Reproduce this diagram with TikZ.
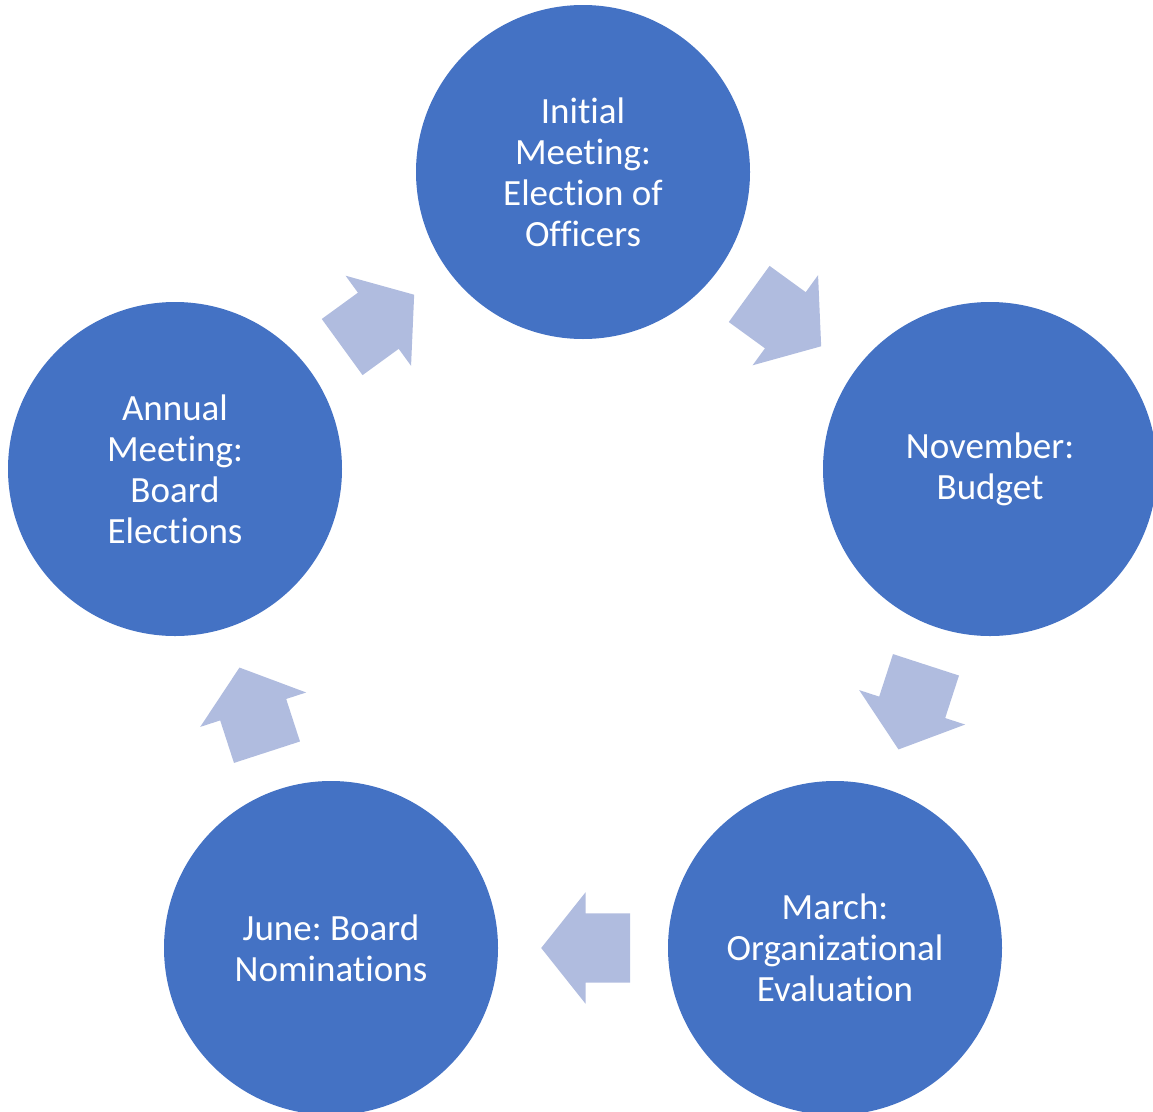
\documentclass[tikz,border=0pt]{standalone}
\usepackage{fontspec}
\setmainfont[Ligatures=NoCommon]{Carlito}
\usetikzlibrary{shapes.arrows}
\definecolor{circblue}{HTML}{4472C4}
\definecolor{arrowblue}{RGB}{176,188,223}
\tikzset{
  stage/.style={circle, fill=circblue, minimum size=334pt, inner sep=0pt,
    text=white, align=center, font=\fontsize{37}{41}\selectfont\frenchspacing},
  cyclearrow/.style={single arrow, fill=arrowblue, draw=none,
    minimum height=89pt, single arrow head extend=21pt,
    single arrow tip angle=103, inner xsep=0pt, inner ysep=34.5pt}
}
\begin{document}
\begin{tikzpicture}[x=1pt,y=-1pt]
\clip (0,0) rectangle (1153,1111);
\node[stage] (initial) at (583,172) {Initial\\Meeting:\\Election of\\Officers};
\node[stage] (november) at (990,469) {November:\\Budget};
\node[stage] (march) at (835,948) {March:\\Organizational\\Evaluation};
\node[stage] (june) at (331,948) {June: Board\\Nominations};
\node[stage] (annual) at (175,469) {Annual\\Meeting:\\Board\\Elections};
\node[cyclearrow, rotate=-36] (a1) at (774,312) {};
\node[cyclearrow, rotate=-108] (a2) at (916.5,694) {};
\node[cyclearrow, rotate=180] (a3) at (599.5,948) {};
\node[cyclearrow, rotate=108] (a4) at (257.5,723) {};
\node[cyclearrow, rotate=36] (a5) at (367,329) {};
\end{tikzpicture}
\end{document}
